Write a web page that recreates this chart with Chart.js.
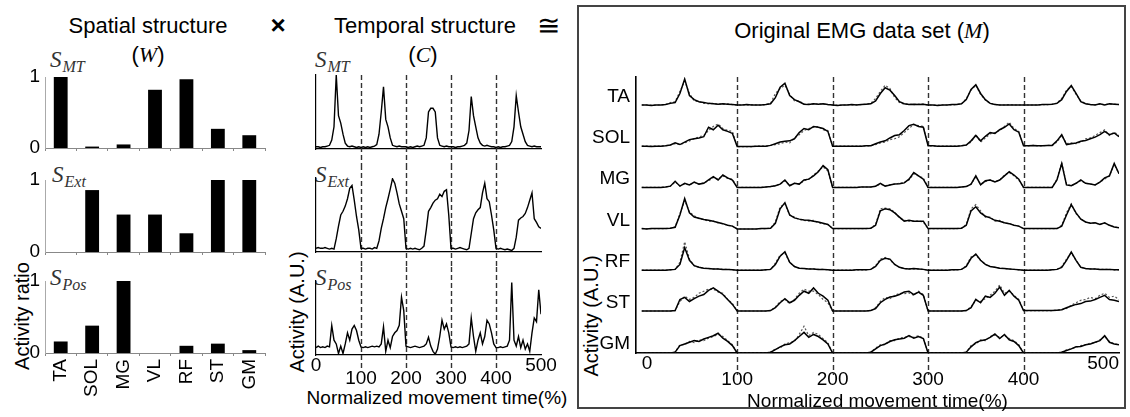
<!DOCTYPE html>
<html>
<head>
<meta charset="utf-8">
<script src="https://cdn.jsdelivr.net/npm/chart.js@4.4.0/dist/chart.umd.min.js"></script>
<style>
  body { margin: 0; background: #fff; }
  #fig { position: relative; width: 1130px; height: 417px; overflow: hidden;
         font-family: "Liberation Sans", Arial, sans-serif; color: #000; }
  canvas { position: absolute; }
  .c { position: absolute; white-space: nowrap; line-height: 1; transform: translate(-50%, -50%); }
  .title { font-size: 22px; }
  .ser { font-family: "Liberation Serif", "Times New Roman", serif; font-style: italic; }
  .rot { font-size: 20px; transform: translate(-50%, -50%) rotate(-90deg); }
  .s { position: absolute; white-space: nowrap; line-height: 1; color: #333;
       font-family: "Liberation Serif", "Times New Roman", serif; font-style: italic; font-size: 23px; }
  .s span { font-size: 16px; position: relative; top: 5px; margin-left: 1px; }
  #box { position: absolute; left: 577px; top: 5px; width: 549px; height: 404px;
         box-sizing: border-box; border: 2px solid #444; }
</style>
</head>
<body>
<div id="fig">
  <div id="box"></div>

  <div class="c title" style="left:148px;top:26px">Spatial structure</div>
  <div class="c title" style="left:148px;top:55px">(<span class="ser">W</span>)</div>
  <div class="c" style="left:278px;top:25px;font-size:26px;font-weight:bold">×</div>
  <div class="c title" style="left:425px;top:26px">Temporal structure</div>
  <div class="c title" style="left:423px;top:55px">(<span class="ser">C</span>)</div>
  <div class="c" style="left:548px;top:26px;font-size:28px">≅</div>
  <div class="c title" style="left:862px;top:31px">Original EMG data set (<span class="ser">M</span>)</div>

  <div class="c rot" style="left:22px;top:316px">Activity ratio</div>
  <div class="c rot" style="left:297px;top:312px">Activity (A.U.)</div>
  <div class="c rot" style="left:591px;top:316px">Activity (A.U.)</div>
  <div class="c" style="left:437px;top:397px;font-size:19px">Normalized movement time(%)</div>

  <div class="s" style="left:50px;top:48px">S<span>MT</span></div>
  <div class="s" style="left:52px;top:163px">S<span>Ext</span></div>
  <div class="s" style="left:50px;top:266px">S<span>Pos</span></div>
  <div class="s" style="left:315px;top:48px">S<span>MT</span></div>
  <div class="s" style="left:315px;top:163px">S<span>Ext</span></div>
  <div class="s" style="left:315px;top:266px">S<span>Pos</span></div>

  <canvas id="w1" width="271" height="93" style="left:0;top:60px"></canvas>
  <canvas id="w2" width="271" height="94" style="left:0;top:163px"></canvas>
  <canvas id="w3" width="271" height="153" style="left:0;top:264px"></canvas>

  <canvas id="c1" width="285" height="105" style="left:290px;top:60px"></canvas>
  <canvas id="c2" width="285" height="102" style="left:290px;top:165px"></canvas>
  <canvas id="c3" width="285" height="150" style="left:290px;top:267px"></canvas>

  <canvas id="emg" width="545" height="355" style="left:580px;top:60px"></canvas>
</div>

<script>
// muscles and spatial weights (W)
const muscles = ['TA', 'SOL', 'MG', 'VL', 'RF', 'ST', 'GM'];
const wMT  = [1.0, 0.02, 0.05, 0.82, 0.97, 0.27, 0.18];
const wExt = [0.0, 0.86, 0.52, 0.52, 0.26, 1.0, 1.0];
const wPos = [0.16, 0.38, 1.0, 0.0, 0.10, 0.13, 0.04];
const barTicks = [0, 1];

// normalized movement time (%), one sample every 5 %
const timePct = [
  0, 5, 10, 15, 20, 25, 30, 35, 40, 45, 50, 55, 60, 65, 70, 75, 80, 85, 90, 95,
  100, 105, 110, 115, 120, 125, 130, 135, 140, 145, 150, 155, 160, 165, 170, 175, 180, 185, 190, 195,
  200, 205, 210, 215, 220, 225, 230, 235, 240, 245, 250, 255, 260, 265, 270, 275, 280, 285, 290, 295,
  300, 305, 310, 315, 320, 325, 330, 335, 340, 345, 350, 355, 360, 365, 370, 375, 380, 385, 390, 395,
  400, 405, 410, 415, 420, 425, 430, 435, 440, 445, 450, 455, 460, 465, 470, 475, 480, 485, 490, 495,
  500
];
const timeTicks = [0, 100, 200, 300, 400, 500];
const edgeTicks = [0, 500];
const cycleMarks = [100, 200, 300, 400];

// temporal structures (C)
const cMT = [
  0.03, 0.03, 0.02, 0.03, 0.03, 0.04, 0.05, 0.12, 0.30, 1.00, 0.45, 0.35, 0.20, 0.08, 0.04, 0.03, 0.04, 0.03, 0.02, 0.03,
  0.02, 0.03, 0.02, 0.03, 0.02, 0.03, 0.04, 0.06, 0.20, 0.50, 0.84, 0.40, 0.30, 0.15, 0.05, 0.04, 0.03, 0.04, 0.03, 0.03,
  0.03, 0.02, 0.03, 0.02, 0.03, 0.04, 0.03, 0.04, 0.05, 0.15, 0.50, 0.55, 0.55, 0.50, 0.15, 0.05, 0.04, 0.03, 0.04, 0.03,
  0.03, 0.03, 0.02, 0.03, 0.03, 0.04, 0.05, 0.08, 0.25, 0.71, 0.45, 0.30, 0.15, 0.08, 0.05, 0.04, 0.05, 0.04, 0.03, 0.03,
  0.02, 0.03, 0.02, 0.03, 0.03, 0.04, 0.05, 0.10, 0.30, 0.72, 0.50, 0.30, 0.20, 0.10, 0.05, 0.04, 0.03, 0.04, 0.03, 0.03,
  0.03
];
const cExt = [
  0.05, 0.06, 0.05, 0.05, 0.06, 0.05, 0.04, 0.05, 0.04, 0.18, 0.35, 0.50, 0.55, 0.62, 0.72, 0.86, 0.90, 0.70, 0.48, 0.30,
  0.05, 0.05, 0.04, 0.05, 0.05, 0.04, 0.06, 0.05, 0.15, 0.32, 0.45, 0.60, 0.72, 0.85, 0.99, 0.93, 0.80, 0.65, 0.55, 0.45,
  0.05, 0.04, 0.05, 0.04, 0.05, 0.04, 0.03, 0.05, 0.08, 0.30, 0.55, 0.60, 0.66, 0.70, 0.72, 0.78, 0.75, 0.82, 0.84, 0.50,
  0.05, 0.05, 0.04, 0.05, 0.06, 0.05, 0.04, 0.03, 0.05, 0.25, 0.45, 0.53, 0.57, 0.60, 0.80, 0.93, 0.72, 0.68, 0.50, 0.30,
  0.05, 0.04, 0.05, 0.04, 0.03, 0.04, 0.03, 0.02, 0.05, 0.20, 0.43, 0.46, 0.48, 0.52, 0.60, 0.70, 0.80, 0.45, 0.40, 0.34,
  0.32
];
const cPos = [
  0.10, 0.12, 0.10, 0.11, 0.10, 0.12, 0.11, 0.40, 0.20, 0.15, 0.02, 0.12, 0.02, 0.15, 0.30, 0.20, 0.35, 0.40, 0.33, 0.20,
  0.11, 0.10, 0.11, 0.10, 0.11, 0.12, 0.11, 0.12, 0.11, 0.15, 0.38, 0.05, 0.20, 0.10, 0.25, 0.30, 0.33, 0.40, 0.78, 0.60,
  0.12, 0.11, 0.10, 0.11, 0.12, 0.11, 0.10, 0.11, 0.12, 0.15, 0.24, 0.12, 0.05, 0.01, 0.08, 0.25, 0.47, 0.35, 0.42, 0.30,
  0.11, 0.10, 0.11, 0.10, 0.11, 0.10, 0.11, 0.12, 0.15, 0.50, 0.25, 0.05, 0.20, 0.30, 0.15, 0.25, 0.47, 0.42, 0.30, 0.15,
  0.10, 0.10, 0.11, 0.10, 0.11, 0.12, 0.20, 0.98, 0.20, 0.12, 0.25, 0.10, 0.20, 0.08, 0.15, 0.05, 0.30, 0.50, 0.45, 0.88,
  0.55
];

// original EMG (solid) and reconstructed (dotted), amplitude per row
const emgTA = [
  0.02, 0.02, 0.01, 0.02, 0.02, 0.03, 0.06, 0.08, 0.30, 0.65, 0.25, 0.15, 0.10, 0.08, 0.06, 0.05, 0.04, 0.05, 0.04, 0.03,
  0.02, 0.02, 0.03, 0.02, 0.02, 0.02, 0.03, 0.05, 0.20, 0.45, 0.55, 0.25, 0.15, 0.10, 0.04, 0.03, 0.05, 0.04, 0.05, 0.03,
  0.02, 0.01, 0.02, 0.02, 0.03, 0.02, 0.03, 0.04, 0.05, 0.12, 0.30, 0.44, 0.38, 0.25, 0.10, 0.05, 0.03, 0.04, 0.03, 0.04,
  0.02, 0.02, 0.01, 0.02, 0.02, 0.03, 0.03, 0.05, 0.15, 0.40, 0.51, 0.30, 0.15, 0.06, 0.03, 0.02, 0.02, 0.02, 0.02, 0.02,
  0.02, 0.02, 0.02, 0.02, 0.03, 0.03, 0.04, 0.06, 0.15, 0.35, 0.49, 0.30, 0.10, 0.05, 0.03, 0.02, 0.05, 0.02, 0.05, 0.04,
  0.03
];
const recTA = [
  0.02, 0.02, 0.02, 0.02, 0.02, 0.03, 0.08, 0.10, 0.35, 0.60, 0.30, 0.12, 0.10, 0.06, 0.05, 0.06, 0.04, 0.04, 0.05, 0.03,
  0.02, 0.02, 0.02, 0.03, 0.02, 0.02, 0.03, 0.06, 0.30, 0.42, 0.50, 0.28, 0.12, 0.12, 0.04, 0.04, 0.04, 0.05, 0.04, 0.03,
  0.02, 0.02, 0.02, 0.02, 0.02, 0.03, 0.03, 0.04, 0.06, 0.18, 0.35, 0.50, 0.42, 0.20, 0.08, 0.04, 0.04, 0.03, 0.04, 0.04,
  0.02, 0.02, 0.02, 0.02, 0.02, 0.02, 0.03, 0.05, 0.18, 0.38, 0.50, 0.28, 0.14, 0.06, 0.04, 0.02, 0.02, 0.03, 0.02, 0.02,
  0.02, 0.02, 0.02, 0.02, 0.03, 0.03, 0.04, 0.07, 0.18, 0.38, 0.47, 0.28, 0.12, 0.05, 0.03, 0.03, 0.04, 0.03, 0.04, 0.04,
  0.03
];
const emgSOL = [
  0.02, 0.02, 0.01, 0.02, 0.02, 0.03, 0.05, 0.10, 0.06, 0.12, 0.18, 0.20, 0.22, 0.25, 0.48, 0.42, 0.53, 0.42, 0.38, 0.33,
  0.01, 0.01, 0.01, 0.01, 0.02, 0.02, 0.02, 0.04, 0.08, 0.12, 0.14, 0.15, 0.20, 0.35, 0.45, 0.42, 0.50, 0.48, 0.45, 0.38,
  0.02, 0.02, 0.02, 0.02, 0.02, 0.02, 0.02, 0.03, 0.03, 0.08, 0.12, 0.15, 0.22, 0.28, 0.30, 0.40, 0.52, 0.55, 0.50, 0.48,
  0.03, 0.03, 0.02, 0.02, 0.02, 0.02, 0.02, 0.03, 0.05, 0.15, 0.28, 0.15, 0.26, 0.35, 0.33, 0.42, 0.48, 0.56, 0.42, 0.36,
  0.03, 0.03, 0.04, 0.03, 0.03, 0.04, 0.04, 0.15, 0.30, 0.06, 0.08, 0.10, 0.14, 0.16, 0.20, 0.24, 0.30, 0.38, 0.30, 0.34,
  0.25
];
const recSOL = [
  0.02, 0.02, 0.02, 0.02, 0.02, 0.03, 0.05, 0.08, 0.06, 0.10, 0.15, 0.20, 0.25, 0.28, 0.40, 0.50, 0.56, 0.45, 0.40, 0.38,
  0.01, 0.01, 0.01, 0.01, 0.02, 0.02, 0.02, 0.04, 0.06, 0.08, 0.12, 0.10, 0.22, 0.30, 0.40, 0.45, 0.48, 0.50, 0.42, 0.40,
  0.02, 0.02, 0.02, 0.02, 0.02, 0.02, 0.02, 0.03, 0.03, 0.06, 0.10, 0.12, 0.18, 0.20, 0.25, 0.35, 0.45, 0.55, 0.52, 0.50,
  0.03, 0.03, 0.02, 0.02, 0.02, 0.02, 0.02, 0.03, 0.05, 0.12, 0.30, 0.12, 0.22, 0.32, 0.35, 0.40, 0.50, 0.60, 0.45, 0.38,
  0.03, 0.03, 0.04, 0.03, 0.03, 0.04, 0.04, 0.12, 0.28, 0.08, 0.10, 0.08, 0.12, 0.20, 0.22, 0.28, 0.35, 0.42, 0.28, 0.36,
  0.28
];
const emgMG = [
  0.02, 0.02, 0.02, 0.02, 0.02, 0.03, 0.05, 0.17, 0.05, 0.12, 0.08, 0.15, 0.10, 0.12, 0.20, 0.28, 0.20, 0.32, 0.25, 0.20,
  0.02, 0.02, 0.02, 0.02, 0.02, 0.02, 0.03, 0.04, 0.06, 0.10, 0.20, 0.06, 0.12, 0.10, 0.20, 0.22, 0.30, 0.40, 0.55, 0.45,
  0.02, 0.02, 0.02, 0.02, 0.02, 0.02, 0.03, 0.03, 0.03, 0.05, 0.12, 0.05, 0.08, 0.10, 0.11, 0.13, 0.22, 0.38, 0.30, 0.22,
  0.02, 0.02, 0.02, 0.02, 0.02, 0.02, 0.02, 0.03, 0.04, 0.10, 0.30, 0.08, 0.18, 0.20, 0.15, 0.20, 0.30, 0.40, 0.32, 0.22,
  0.02, 0.02, 0.02, 0.02, 0.02, 0.02, 0.02, 0.20, 0.60, 0.08, 0.06, 0.12, 0.20, 0.12, 0.10, 0.08, 0.15, 0.25, 0.30, 0.60,
  0.35
];
const recMG = [
  0.02, 0.02, 0.02, 0.02, 0.02, 0.03, 0.05, 0.15, 0.06, 0.10, 0.08, 0.14, 0.10, 0.13, 0.18, 0.26, 0.22, 0.30, 0.24, 0.22,
  0.02, 0.02, 0.02, 0.02, 0.02, 0.02, 0.03, 0.04, 0.06, 0.10, 0.18, 0.07, 0.12, 0.10, 0.18, 0.22, 0.32, 0.42, 0.52, 0.42,
  0.02, 0.02, 0.02, 0.02, 0.02, 0.02, 0.03, 0.03, 0.03, 0.05, 0.10, 0.06, 0.08, 0.10, 0.12, 0.14, 0.20, 0.35, 0.30, 0.25,
  0.02, 0.02, 0.02, 0.02, 0.02, 0.02, 0.02, 0.03, 0.04, 0.10, 0.28, 0.10, 0.16, 0.20, 0.16, 0.20, 0.32, 0.38, 0.30, 0.20,
  0.02, 0.02, 0.02, 0.02, 0.02, 0.02, 0.02, 0.22, 0.62, 0.10, 0.06, 0.12, 0.18, 0.12, 0.10, 0.08, 0.15, 0.22, 0.30, 0.58,
  0.35
];
const emgVL = [
  0.02, 0.01, 0.02, 0.02, 0.02, 0.02, 0.03, 0.05, 0.35, 0.75, 0.40, 0.30, 0.27, 0.24, 0.22, 0.20, 0.17, 0.14, 0.10, 0.08,
  0.01, 0.01, 0.01, 0.01, 0.01, 0.02, 0.02, 0.03, 0.15, 0.50, 0.65, 0.35, 0.28, 0.25, 0.23, 0.22, 0.20, 0.18, 0.15, 0.12,
  0.02, 0.02, 0.02, 0.02, 0.02, 0.02, 0.02, 0.02, 0.03, 0.10, 0.45, 0.50, 0.48, 0.40, 0.30, 0.20, 0.22, 0.20, 0.20, 0.20,
  0.02, 0.02, 0.02, 0.02, 0.02, 0.02, 0.02, 0.03, 0.10, 0.45, 0.55, 0.40, 0.32, 0.28, 0.22, 0.20, 0.16, 0.14, 0.10, 0.08,
  0.02, 0.02, 0.02, 0.02, 0.02, 0.02, 0.02, 0.02, 0.08, 0.35, 0.60, 0.40, 0.25, 0.18, 0.15, 0.16, 0.12, 0.16, 0.10, 0.06,
  0.04
];
const recVL = [
  0.02, 0.02, 0.02, 0.02, 0.02, 0.02, 0.03, 0.06, 0.38, 0.70, 0.42, 0.33, 0.26, 0.24, 0.20, 0.20, 0.16, 0.14, 0.10, 0.08,
  0.01, 0.01, 0.01, 0.01, 0.01, 0.02, 0.02, 0.03, 0.18, 0.55, 0.62, 0.35, 0.30, 0.24, 0.22, 0.20, 0.22, 0.16, 0.14, 0.12,
  0.02, 0.02, 0.02, 0.02, 0.02, 0.02, 0.02, 0.02, 0.03, 0.12, 0.50, 0.52, 0.50, 0.42, 0.28, 0.22, 0.20, 0.20, 0.20, 0.18,
  0.02, 0.02, 0.02, 0.02, 0.02, 0.02, 0.02, 0.03, 0.12, 0.50, 0.60, 0.45, 0.30, 0.30, 0.20, 0.22, 0.15, 0.15, 0.10, 0.08,
  0.02, 0.02, 0.02, 0.02, 0.02, 0.02, 0.02, 0.02, 0.10, 0.40, 0.62, 0.38, 0.26, 0.18, 0.16, 0.15, 0.13, 0.15, 0.10, 0.06,
  0.04
];
const emgRF = [
  0.01, 0.01, 0.01, 0.01, 0.01, 0.01, 0.02, 0.03, 0.15, 0.56, 0.25, 0.12, 0.08, 0.06, 0.05, 0.04, 0.04, 0.03, 0.03, 0.02,
  0.01, 0.01, 0.01, 0.01, 0.01, 0.01, 0.02, 0.03, 0.15, 0.35, 0.46, 0.20, 0.10, 0.06, 0.05, 0.04, 0.04, 0.03, 0.03, 0.02,
  0.01, 0.01, 0.01, 0.01, 0.01, 0.02, 0.02, 0.02, 0.03, 0.10, 0.25, 0.30, 0.28, 0.15, 0.08, 0.05, 0.04, 0.05, 0.04, 0.03,
  0.01, 0.01, 0.01, 0.01, 0.01, 0.02, 0.02, 0.03, 0.10, 0.30, 0.40, 0.25, 0.15, 0.10, 0.08, 0.06, 0.05, 0.04, 0.03, 0.02,
  0.01, 0.01, 0.01, 0.01, 0.01, 0.01, 0.02, 0.03, 0.08, 0.25, 0.45, 0.25, 0.08, 0.05, 0.04, 0.04, 0.03, 0.03, 0.03, 0.02,
  0.02
];
const recRF = [
  0.01, 0.01, 0.01, 0.01, 0.01, 0.01, 0.02, 0.03, 0.20, 0.70, 0.28, 0.12, 0.08, 0.06, 0.05, 0.04, 0.04, 0.03, 0.03, 0.02,
  0.01, 0.01, 0.01, 0.01, 0.01, 0.01, 0.02, 0.03, 0.18, 0.38, 0.42, 0.20, 0.10, 0.06, 0.05, 0.04, 0.04, 0.03, 0.03, 0.02,
  0.01, 0.01, 0.01, 0.01, 0.01, 0.02, 0.02, 0.02, 0.03, 0.12, 0.28, 0.32, 0.26, 0.15, 0.08, 0.05, 0.04, 0.04, 0.04, 0.03,
  0.01, 0.01, 0.01, 0.01, 0.01, 0.02, 0.02, 0.03, 0.12, 0.33, 0.38, 0.25, 0.15, 0.10, 0.08, 0.06, 0.05, 0.04, 0.03, 0.02,
  0.01, 0.01, 0.01, 0.01, 0.01, 0.01, 0.02, 0.03, 0.10, 0.28, 0.43, 0.25, 0.08, 0.05, 0.04, 0.04, 0.03, 0.03, 0.03, 0.02,
  0.02
];
const emgST = [
  0.02, 0.02, 0.02, 0.02, 0.02, 0.02, 0.02, 0.03, 0.30, 0.35, 0.25, 0.32, 0.38, 0.42, 0.52, 0.58, 0.50, 0.42, 0.30, 0.18,
  0.02, 0.02, 0.02, 0.02, 0.02, 0.02, 0.02, 0.03, 0.10, 0.22, 0.32, 0.22, 0.28, 0.40, 0.50, 0.45, 0.58, 0.45, 0.38, 0.28,
  0.02, 0.02, 0.02, 0.02, 0.02, 0.02, 0.02, 0.02, 0.03, 0.08, 0.22, 0.30, 0.36, 0.38, 0.42, 0.48, 0.50, 0.42, 0.48, 0.40,
  0.02, 0.02, 0.02, 0.02, 0.02, 0.02, 0.02, 0.02, 0.03, 0.10, 0.30, 0.22, 0.38, 0.35, 0.45, 0.60, 0.40, 0.52, 0.38, 0.28,
  0.03, 0.03, 0.03, 0.03, 0.03, 0.03, 0.03, 0.04, 0.05, 0.10, 0.14, 0.18, 0.20, 0.25, 0.26, 0.30, 0.35, 0.40, 0.30, 0.28,
  0.25
];
const recST = [
  0.02, 0.02, 0.02, 0.02, 0.02, 0.02, 0.02, 0.03, 0.25, 0.38, 0.30, 0.35, 0.45, 0.50, 0.55, 0.55, 0.48, 0.45, 0.30, 0.20,
  0.02, 0.02, 0.02, 0.02, 0.02, 0.02, 0.02, 0.03, 0.12, 0.25, 0.30, 0.20, 0.30, 0.45, 0.55, 0.50, 0.50, 0.42, 0.30, 0.22,
  0.02, 0.02, 0.02, 0.02, 0.02, 0.02, 0.02, 0.02, 0.03, 0.10, 0.25, 0.35, 0.32, 0.40, 0.45, 0.44, 0.46, 0.40, 0.50, 0.42,
  0.02, 0.02, 0.02, 0.02, 0.02, 0.02, 0.02, 0.02, 0.03, 0.12, 0.28, 0.25, 0.32, 0.40, 0.50, 0.65, 0.45, 0.50, 0.40, 0.30,
  0.03, 0.03, 0.03, 0.03, 0.03, 0.03, 0.03, 0.04, 0.05, 0.08, 0.16, 0.22, 0.28, 0.30, 0.35, 0.32, 0.40, 0.45, 0.35, 0.38,
  0.30
];
const emgGM = [
  0, 0, 0, 0, 0, 0, 0, 0.02, 0.18, 0.22, 0.26, 0.30, 0.28, 0.34, 0.38, 0.42, 0.48, 0.36, 0.28, 0.18,
  0, 0, 0, 0, 0, 0, 0, 0.02, 0.08, 0.15, 0.20, 0.22, 0.30, 0.40, 0.50, 0.38, 0.45, 0.40, 0.32, 0.22,
  0, 0, 0, 0, 0, 0, 0, 0, 0.02, 0.10, 0.18, 0.22, 0.28, 0.32, 0.34, 0.36, 0.42, 0.36, 0.40, 0.35,
  0, 0, 0, 0, 0, 0, 0, 0, 0.02, 0.15, 0.25, 0.30, 0.32, 0.38, 0.46, 0.35, 0.45, 0.32, 0.28, 0.18,
  0, 0, 0, 0, 0, 0, 0, 0, 0.02, 0.06, 0.10, 0.15, 0.16, 0.20, 0.22, 0.26, 0.30, 0.42, 0.26, 0.22,
  0.20
];
const recGM = [
  0, 0, 0, 0, 0, 0, 0, 0.02, 0.20, 0.20, 0.28, 0.25, 0.32, 0.30, 0.36, 0.40, 0.45, 0.40, 0.30, 0.20,
  0, 0, 0, 0, 0, 0, 0, 0.02, 0.10, 0.12, 0.22, 0.25, 0.28, 0.45, 0.65, 0.42, 0.50, 0.45, 0.35, 0.25,
  0, 0, 0, 0, 0, 0, 0, 0, 0.02, 0.12, 0.20, 0.20, 0.30, 0.30, 0.36, 0.38, 0.40, 0.38, 0.42, 0.36,
  0, 0, 0, 0, 0, 0, 0, 0, 0.02, 0.18, 0.22, 0.32, 0.30, 0.40, 0.44, 0.38, 0.42, 0.35, 0.30, 0.20,
  0, 0, 0, 0, 0, 0, 0, 0, 0.02, 0.08, 0.10, 0.14, 0.18, 0.20, 0.24, 0.25, 0.32, 0.40, 0.28, 0.22,
  0.20
];
const emgRows = [emgTA, emgSOL, emgMG, emgVL, emgRF, emgST, emgGM];
const recRows = [recTA, recSOL, recMG, recVL, recRF, recST, recGM];

Chart.defaults.font.family = '"Liberation Sans", Arial, sans-serif';
Chart.defaults.color = '#000';
Chart.defaults.animation = false;

// 0 and 500 sit on the first label row, the cycle ticks on the second
const staggerLabel = v => edgeTicks.includes(v) ? [String(v), ''] : ['', String(v)];

// keep tick labels from pushing the plot area in
const noEdgePad = s => { s.paddingTop = 0; s.paddingBottom = 0; s.paddingLeft = 0; s.paddingRight = 0; };

// dashed vertical lines at each cycle boundary, may run outside the plot area
const cycleLines = {
  id: 'cycleLines',
  beforeDatasetsDraw(chart, args, opts) {
    const xs = chart.scales.x, ctx = chart.ctx;
    const top = opts.top === 'area' ? chart.chartArea.top : opts.top;
    const bottom = opts.bottom === 'canvas' ? chart.height : opts.bottom;
    ctx.save();
    ctx.strokeStyle = '#333';
    ctx.lineWidth = 1.4;
    ctx.setLineDash([5, 3]);
    cycleMarks.forEach(v => {
      const px = Math.round(xs.getPixelForValue(v)) + 0.5;
      ctx.beginPath();
      ctx.moveTo(px, top);
      ctx.lineTo(px, bottom);
      ctx.stroke();
    });
    ctx.restore();
  }
};

function weightChart(id, values, showLabels) {
  new Chart(document.getElementById(id), {
    type: 'bar',
    data: {
      labels: muscles,
      datasets: [{ data: values, backgroundColor: '#000', barPercentage: 0.44, categoryPercentage: 1 }]
    },
    options: {
      responsive: false,
      layout: { padding: { top: 17, right: 6, left: 0, bottom: showLabels ? 14 : 0 } },
      plugins: { legend: { display: false }, tooltip: { enabled: false } },
      scales: {
        x: {
          grid: { display: true, drawOnChartArea: false, offset: true, tickLength: 3, color: '#888' },
          border: { color: '#888' },
          ticks: { display: showLabels, maxRotation: 90, minRotation: 90, font: { size: 19 }, padding: 3 },
          afterFit: s => { s.height = showLabels ? 50 : 5; noEdgePad(s); }
        },
        y: {
          min: 0, max: 1,
          afterBuildTicks: s => { s.ticks = barTicks.map(v => ({ value: v })); },
          grid: { display: false, drawTicks: false },
          border: { color: '#aaa' },
          ticks: { font: { size: 19 }, padding: 5 },
          afterFit: s => { s.width = 45; noEdgePad(s); }
        }
      }
    }
  });
}

function timeChart(id, values, pad, dash, showAxis) {
  const xScale = {
    type: 'linear', min: 0, max: 500,
    grid: { display: false, drawTicks: false },
    border: { color: '#000', width: 1.2 },
    ticks: { display: false },
    afterFit: s => { s.height = 0; noEdgePad(s); }
  };
  if (showAxis) {
    Object.assign(xScale, {
      afterBuildTicks: s => { s.ticks = timeTicks.map(v => ({ value: v })); },
      ticks: {
        display: true, maxRotation: 0, padding: 4, font: { size: 19, lineHeight: '13px' },
        callback: staggerLabel
      },
      afterFit: s => { s.height = 55; noEdgePad(s); }
    });
  }
  new Chart(document.getElementById(id), {
    type: 'line',
    data: {
      labels: timePct,
      datasets: [{ data: values, borderColor: '#000', borderWidth: 1.4, pointRadius: 0, tension: 0 }]
    },
    options: {
      responsive: false,
      layout: { padding: { left: 26, right: 34, top: pad[0], bottom: pad[1] } },
      plugins: { legend: { display: false }, tooltip: { enabled: false }, cycleLines: dash },
      scales: {
        x: xScale,
        y: {
          min: 0, max: 1,
          grid: { display: false, drawTicks: false },
          border: { color: '#000', width: 1.2 },
          ticks: { display: false },
          afterFit: s => { s.width = 0; noEdgePad(s); }
        }
      }
    },
    plugins: [cycleLines]
  });
}

weightChart('w1', wMT, false);
weightChart('w2', wExt, false);
weightChart('w3', wPos, true);

timeChart('c1', cMT, [15, 16], { top: 'area', bottom: 'canvas' }, false);
timeChart('c2', cExt, [13, 15], { top: 0, bottom: 'canvas' }, false);
timeChart('c3', cPos, [14, 7], { top: 0, bottom: 105 }, true);

// EMG rows are stacked: TA on top, GM on the x axis
const rowBase = i => muscles.length - 1 - i;
const emgSets = [];
emgRows.forEach((row, i) => {
  emgSets.push({ data: row.map(v => v + rowBase(i)), borderColor: '#000', borderWidth: 1.5, pointRadius: 0, tension: 0 });
});
recRows.forEach((row, i) => {
  emgSets.push({ data: row.map(v => v + rowBase(i)), borderColor: '#555', borderWidth: 1.2, borderDash: [2, 2], pointRadius: 0, tension: 0 });
});

new Chart(document.getElementById('emg'), {
  type: 'line',
  data: { labels: timePct, datasets: emgSets },
  options: {
    responsive: false,
    layout: { padding: { left: 0, right: 6, top: 17, bottom: 2 } },
    plugins: { legend: { display: false }, tooltip: { enabled: false }, cycleLines: { top: 'area', bottom: 315 } },
    scales: {
      x: {
        type: 'linear', min: -6, max: 500,
        afterBuildTicks: s => { s.ticks = timeTicks.map(v => ({ value: v })); },
        grid: { display: false, drawTicks: false },
        border: { color: '#000', width: 1.6 },
        ticks: {
          maxRotation: 0, align: 'inner', padding: 3, font: { size: 19, lineHeight: '16px' },
          callback: staggerLabel
        },
        title: { display: true, text: 'Normalized movement time(%)', font: { size: 19 }, padding: 0 },
        afterFit: s => { s.height = 60; noEdgePad(s); }
      },
      y: {
        min: 0, max: 6.7,
        afterBuildTicks: s => { s.ticks = muscles.map((m, i) => ({ value: rowBase(i) + 0.22 })); },
        grid: { display: false, drawTicks: false },
        border: { color: '#000', width: 1.6 },
        ticks: { font: { size: 19 }, padding: 6, callback: (v, i) => muscles[i] },
        afterFit: s => { s.width = 56; noEdgePad(s); }
      }
    }
  },
  plugins: [cycleLines]
});
</script>
</body>
</html>
